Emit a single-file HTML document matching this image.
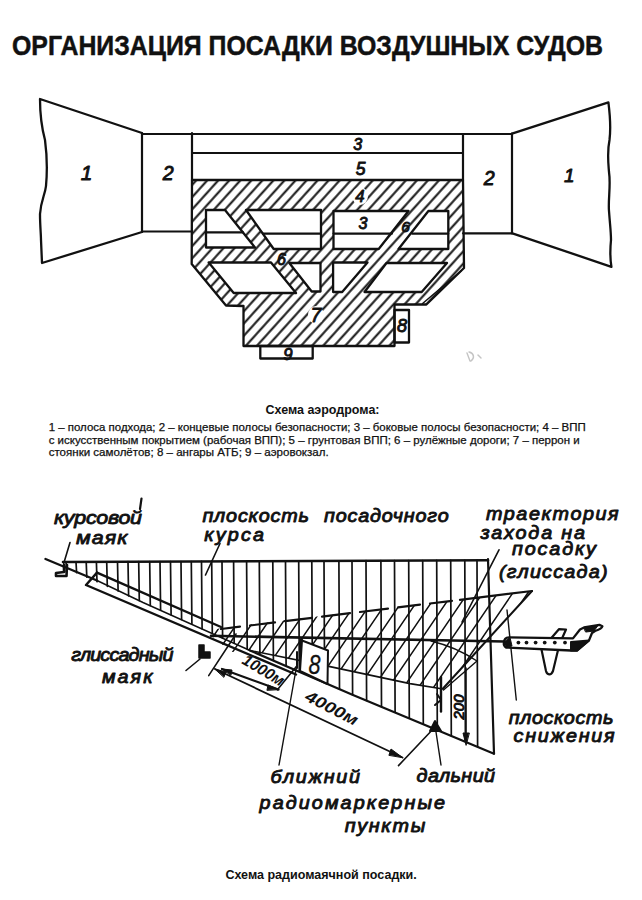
<!DOCTYPE html>
<html><head><meta charset="utf-8"><style>
html,body{margin:0;padding:0;background:#fff;}
svg{display:block;}
text{font-family:"Liberation Sans",sans-serif;fill:#111;}
</style></head><body>
<svg width="642" height="900" viewBox="0 0 642 900" stroke="#111" stroke-linecap="round" stroke-linejoin="round">
<defs><pattern id="hatch" patternUnits="userSpaceOnUse" width="8.2" height="20" patternTransform="rotate(42)"><rect x="3.1" y="-1" width="2" height="22" fill="#111" stroke="none"/></pattern></defs>
<rect width="642" height="900" fill="#fff" stroke="none"/>
<g stroke="none">
<text x="12" y="55" font-size="28.5" font-weight="bold" font-style="normal" text-anchor="start" textLength="591" lengthAdjust="spacingAndGlyphs" stroke="#111" stroke-width="0.5">ОРГАНИЗАЦИЯ ПОСАДКИ ВОЗДУШНЫХ СУДОВ</text>
<text x="265.5" y="413.7" font-size="12" font-weight="bold" font-style="normal" text-anchor="start" textLength="114" lengthAdjust="spacingAndGlyphs" >Схема аэродрома:</text>
<text x="48.7" y="431" font-size="11" font-weight="normal" font-style="normal" text-anchor="start" textLength="537" lengthAdjust="spacingAndGlyphs" stroke="#111" stroke-width="0.25">1 – полоса подхода; 2 – концевые полосы безопасности; 3 – боковые полосы безопасности; 4 – ВПП</text>
<text x="48.7" y="443.5" font-size="11" font-weight="normal" font-style="normal" text-anchor="start" textLength="531" lengthAdjust="spacingAndGlyphs" stroke="#111" stroke-width="0.25">с искусственным покрытием (рабочая ВПП); 5 – грунтовая ВПП; 6 – рулёжные дороги; 7 – перрон и</text>
<text x="48.7" y="456" font-size="11" font-weight="normal" font-style="normal" text-anchor="start" textLength="280" lengthAdjust="spacingAndGlyphs" stroke="#111" stroke-width="0.25">стоянки самолётов; 8 – ангары АТБ; 9 – аэровокзал.</text>
<text x="225.4" y="879.3" font-size="12" font-weight="bold" font-style="normal" text-anchor="start" textLength="191.4" lengthAdjust="spacingAndGlyphs" >Схема радиомаячной посадки.</text>
<path d="M192.0,180.0 463.0,180.0 464.0,268.0 426.4,304.5 394.5,304.5 394.5,346.0 243.5,346.0 243.5,306.0 226.0,305.5 191.7,264.0Z M206.0,210.0 225.0,210.0 255.0,247.5 206.0,247.5Z M246.0,210.0 321.0,210.0 321.0,249.0 273.7,249.0Z M208.7,262.5 271.0,262.5 296.0,293.0 233.7,293.0Z M289.3,263.0 320.5,263.0 320.5,291.5 311.7,291.5Z M333.5,211.0 408.5,211.0 378.7,249.0 333.5,249.0Z M428.4,211.0 448.3,211.0 448.3,249.0 398.5,249.0Z M333.1,262.5 367.5,262.5 342.2,292.0 333.1,292.0Z M386.5,263.0 447.0,263.0 421.7,292.0 364.5,292.0Z" fill="url(#hatch)" fill-rule="evenodd" stroke="none"/>
<g fill="none" stroke="#111" stroke-width="2.3">
<polygon points="192.0,180.0 463.0,180.0 464.0,268.0 426.4,304.5 394.5,304.5 394.5,346.0 243.5,346.0 243.5,306.0 226.0,305.5 191.7,264.0"/>
<polygon points="206.0,210.0 225.0,210.0 255.0,247.5 206.0,247.5"/>
<polygon points="246.0,210.0 321.0,210.0 321.0,249.0 273.7,249.0"/>
<polygon points="208.7,262.5 271.0,262.5 296.0,293.0 233.7,293.0"/>
<polygon points="289.3,263.0 320.5,263.0 320.5,291.5 311.7,291.5"/>
<polygon points="333.5,211.0 408.5,211.0 378.7,249.0 333.5,249.0"/>
<polygon points="428.4,211.0 448.3,211.0 448.3,249.0 398.5,249.0"/>
<polygon points="333.1,262.5 367.5,262.5 342.2,292.0 333.1,292.0"/>
<polygon points="386.5,263.0 447.0,263.0 421.7,292.0 364.5,292.0"/>
<line x1="206.0" y1="232.4" x2="243.0" y2="232.4" stroke="#111" stroke-width="2.2"/>
<line x1="263.0" y1="233.7" x2="321.0" y2="233.7" stroke="#111" stroke-width="2.2"/>
<line x1="333.5" y1="233.6" x2="392.0" y2="233.6" stroke="#111" stroke-width="2.2"/>
<line x1="412.0" y1="233.6" x2="448.3" y2="233.6" stroke="#111" stroke-width="2.2"/>
<line x1="142.0" y1="134.0" x2="512.0" y2="134.0" stroke="#111" stroke-width="2.2"/>
<line x1="192.0" y1="153.0" x2="463.0" y2="153.0" stroke="#111" stroke-width="2.2"/>
<line x1="192.0" y1="133.0" x2="192.0" y2="180.0" stroke="#111" stroke-width="2.2"/>
<line x1="463.0" y1="134.0" x2="463.0" y2="180.0" stroke="#111" stroke-width="2.2"/>
<line x1="142.0" y1="133.0" x2="142.0" y2="232.0" stroke="#111" stroke-width="2.2"/>
<line x1="142.0" y1="231.5" x2="192.0" y2="231.5" stroke="#111" stroke-width="2.2"/>
<line x1="463.0" y1="233.3" x2="512.0" y2="233.3" stroke="#111" stroke-width="2.2"/>
<line x1="512.0" y1="133.6" x2="512.0" y2="233.3" stroke="#111" stroke-width="2.2"/>
<path d="M142,133 L40,99 C40,110 41,125 45,140 C47,155 47,175 46,186 C45,195 41,200 40,214 C40,225 41,235 41,240 L42,263 L142,232"/>
<path d="M512,133.6 L608.4,102.4 C610,115 611,128 609.5,140 C607,152 608,160 609,172 C611,185 608,200 609,211 C610,225 611,232 611,240 C610,250 610,258 611.4,266.8 L512.4,233.3"/>
<line x1="461.0" y1="271.0" x2="422.6" y2="303.5" stroke="#111" stroke-width="1.6"/>
<rect x="394.5" y="310" width="14.5" height="32.5"/>
<rect x="260.3" y="346" width="52.4" height="12.5"/>
</g>
<g fill="none" stroke="#c4c4c4" stroke-width="1.4"><path d="M467,353 L470,361 M469,352 C474,353 475,358 471,361"/><path d="M478,355 L481,358"/></g>
<g fill="#fff" stroke="none"><ellipse cx="360" cy="196" rx="8" ry="9"/><ellipse cx="316" cy="315" rx="8" ry="9"/></g>
<text x="86.5" y="180.0" font-size="20.9" font-style="italic" stroke="#111" stroke-width="0.9" text-anchor="middle">1</text>
<text x="168.2" y="180.0" font-size="19.6" font-style="italic" stroke="#111" stroke-width="0.9" text-anchor="middle">2</text>
<text x="357.8" y="150.0" font-size="16.1" font-style="italic" stroke="#111" stroke-width="0.9" text-anchor="middle">3</text>
<text x="360.5" y="175.0" font-size="17.5" font-style="italic" stroke="#111" stroke-width="0.9" text-anchor="middle">5</text>
<text x="360.0" y="202.0" font-size="16.8" font-style="italic" stroke="#111" stroke-width="0.9" text-anchor="middle">4</text>
<text x="363.0" y="228.5" font-size="16.1" font-style="italic" stroke="#111" stroke-width="0.9" text-anchor="middle">3</text>
<text x="405.5" y="232.0" font-size="15.4" font-style="italic" stroke="#111" stroke-width="0.9" text-anchor="middle">6</text>
<text x="489.2" y="185.0" font-size="19.6" font-style="italic" stroke="#111" stroke-width="0.9" text-anchor="middle">2</text>
<text x="569.2" y="182.0" font-size="18.9" font-style="italic" stroke="#111" stroke-width="0.9" text-anchor="middle">1</text>
<text x="281.5" y="265.0" font-size="16.1" font-style="italic" stroke="#111" stroke-width="0.9" text-anchor="middle">6</text>
<text x="316.0" y="322.0" font-size="19.6" font-style="italic" stroke="#111" stroke-width="0.9" text-anchor="middle">7</text>
<text x="402.0" y="332.0" font-size="18.2" font-style="italic" stroke="#111" stroke-width="0.9" text-anchor="middle">8</text>
<text x="288.0" y="360.0" font-size="16.8" font-style="italic" stroke="#111" stroke-width="0.9" text-anchor="middle">9</text>
<g fill="none" stroke="#111">
<line x1="66" y1="562.0" x2="66.6" y2="568.1" stroke-width="1.7"/>
<line x1="76" y1="562.0" x2="76.6" y2="572.6" stroke-width="1.7"/>
<line x1="86.2" y1="561.9" x2="86.8" y2="577.2" stroke-width="1.7"/>
<line x1="96.4" y1="561.9" x2="97.0" y2="581.7" stroke-width="1.7"/>
<line x1="106.7" y1="561.8" x2="107.3" y2="586.3" stroke-width="1.7"/>
<line x1="117.5" y1="561.8" x2="118.1" y2="591.1" stroke-width="1.7"/>
<line x1="128" y1="561.7" x2="128.6" y2="595.8" stroke-width="1.7"/>
<line x1="138.7" y1="561.7" x2="139.3" y2="600.6" stroke-width="1.7"/>
<line x1="149.7" y1="561.6" x2="150.3" y2="605.5" stroke-width="1.7"/>
<line x1="160" y1="561.6" x2="160.6" y2="610.1" stroke-width="1.7"/>
<line x1="170.5" y1="561.6" x2="171.1" y2="614.8" stroke-width="1.7"/>
<line x1="181" y1="561.5" x2="181.6" y2="619.5" stroke-width="1.7"/>
<line x1="191.3" y1="561.5" x2="191.9" y2="624.2" stroke-width="1.7"/>
<line x1="201.5" y1="561.4" x2="202.1" y2="628.7" stroke-width="1.7"/>
<line x1="211.7" y1="561.4" x2="212.3" y2="633.3" stroke-width="1.7"/>
<line x1="222" y1="561.3" x2="222.6" y2="637.9" stroke-width="1.7"/>
<line x1="233.6" y1="561.3" x2="234.2" y2="643.1" stroke-width="1.7"/>
<line x1="246.6" y1="561.2" x2="247.2" y2="649.0" stroke-width="1.7"/>
<line x1="259.3" y1="561.2" x2="259.9" y2="654.5" stroke-width="1.7"/>
<line x1="272.8" y1="561.1" x2="273.4" y2="660.3" stroke-width="1.7"/>
<line x1="285.5" y1="561.1" x2="286.1" y2="665.8" stroke-width="1.7"/>
<line x1="298.7" y1="561.0" x2="299.3" y2="671.5" stroke-width="1.7"/>
<line x1="311.8" y1="560.9" x2="312.4" y2="677.2" stroke-width="1.7"/>
<line x1="324" y1="560.9" x2="324.6" y2="682.4" stroke-width="1.7"/>
<line x1="338.9" y1="560.8" x2="339.5" y2="688.9" stroke-width="1.7"/>
<line x1="352" y1="560.8" x2="352.6" y2="694.5" stroke-width="1.7"/>
<line x1="366" y1="560.7" x2="366.6" y2="700.4" stroke-width="1.7"/>
<line x1="380.9" y1="560.7" x2="381.5" y2="706.6" stroke-width="1.7"/>
<line x1="394.5" y1="560.6" x2="395.1" y2="712.2" stroke-width="1.7"/>
<line x1="408.7" y1="560.5" x2="409.3" y2="718.2" stroke-width="1.7"/>
<line x1="422.7" y1="560.5" x2="423.3" y2="724.0" stroke-width="1.7"/>
<line x1="436.7" y1="560.4" x2="437.3" y2="729.8" stroke-width="1.7"/>
<line x1="450.7" y1="560.4" x2="451.3" y2="735.7" stroke-width="1.7"/>
<line x1="464.8" y1="560.3" x2="465.4" y2="741.5" stroke-width="1.7"/>
<line x1="477" y1="560.2" x2="477.6" y2="746.6" stroke-width="1.7"/>
<line x1="63.0" y1="562.0" x2="488.0" y2="560.2" stroke="#111" stroke-width="2.6"/>
<line x1="488.0" y1="559.2" x2="494.0" y2="753.7" stroke="#111" stroke-width="2.2"/>
<polyline points="45.5,559.0 97.0,580.5" fill="none" stroke="#111" stroke-width="2.4"/>
<polyline points="97.0,580.5 143.0,602.5 250.0,650.5" fill="none" stroke="#111" stroke-width="1.4"/>
<polyline points="250.0,650.5 352.4,694.7 494.0,753.7" fill="none" stroke="#111" stroke-width="2.2"/>
<polyline points="97.0,572.6 221.0,627.0" fill="none" stroke="#111" stroke-width="2.4"/>
<polyline points="97.0,572.6 86.0,585.0 296.0,674.5" fill="none" stroke="#111" stroke-width="2.4"/>
<clipPath id="gpc"><polygon points="206,632 221,628 532,591 443,688.5 410,683.6 330,666.6 250,650.5 232,652"/></clipPath>
<g clip-path="url(#gpc)">
<line x1="95.0" y1="700" x2="176.6" y2="580" stroke-width="1.5"/>
<line x1="110.0" y1="700" x2="191.6" y2="580" stroke-width="1.5"/>
<line x1="125.0" y1="700" x2="206.6" y2="580" stroke-width="1.5"/>
<line x1="140.0" y1="700" x2="221.6" y2="580" stroke-width="1.5"/>
<line x1="155.0" y1="700" x2="236.6" y2="580" stroke-width="1.5"/>
<line x1="170.0" y1="700" x2="251.6" y2="580" stroke-width="1.5"/>
<line x1="185.0" y1="700" x2="266.6" y2="580" stroke-width="1.5"/>
<line x1="200.0" y1="700" x2="281.6" y2="580" stroke-width="1.5"/>
<line x1="215.0" y1="700" x2="296.6" y2="580" stroke-width="1.5"/>
<line x1="230.0" y1="700" x2="311.6" y2="580" stroke-width="1.5"/>
<line x1="245.0" y1="700" x2="326.6" y2="580" stroke-width="1.5"/>
<line x1="260.0" y1="700" x2="341.6" y2="580" stroke-width="1.5"/>
<line x1="275.0" y1="700" x2="356.6" y2="580" stroke-width="1.5"/>
<line x1="290.0" y1="700" x2="371.6" y2="580" stroke-width="1.5"/>
<line x1="305.0" y1="700" x2="386.6" y2="580" stroke-width="1.5"/>
<line x1="320.0" y1="700" x2="401.6" y2="580" stroke-width="1.5"/>
<line x1="335.0" y1="700" x2="416.6" y2="580" stroke-width="1.5"/>
<line x1="350.0" y1="700" x2="431.6" y2="580" stroke-width="1.5"/>
<line x1="365.0" y1="700" x2="446.6" y2="580" stroke-width="1.5"/>
<line x1="380.0" y1="700" x2="461.6" y2="580" stroke-width="1.5"/>
<line x1="395.0" y1="700" x2="476.6" y2="580" stroke-width="1.5"/>
<line x1="410.0" y1="700" x2="491.6" y2="580" stroke-width="1.5"/>
<line x1="425.0" y1="700" x2="506.6" y2="580" stroke-width="1.5"/>
<line x1="440.0" y1="700" x2="521.6" y2="580" stroke-width="1.5"/>
<line x1="455.0" y1="700" x2="536.6" y2="580" stroke-width="1.5"/>
<line x1="470.0" y1="700" x2="551.6" y2="580" stroke-width="1.5"/>
<line x1="485.0" y1="700" x2="566.6" y2="580" stroke-width="1.5"/>
<line x1="500.0" y1="700" x2="581.6" y2="580" stroke-width="1.5"/>
<line x1="515.0" y1="700" x2="596.6" y2="580" stroke-width="1.5"/>
<line x1="530.0" y1="700" x2="611.6" y2="580" stroke-width="1.5"/>
<line x1="545.0" y1="700" x2="626.6" y2="580" stroke-width="1.5"/>
<line x1="560.0" y1="700" x2="641.6" y2="580" stroke-width="1.5"/>
<line x1="575.0" y1="700" x2="656.6" y2="580" stroke-width="1.5"/>
<line x1="590.0" y1="700" x2="671.6" y2="580" stroke-width="1.5"/>
<line x1="605.0" y1="700" x2="686.6" y2="580" stroke-width="1.5"/>
<line x1="620.0" y1="700" x2="701.6" y2="580" stroke-width="1.5"/>
<line x1="635.0" y1="700" x2="716.6" y2="580" stroke-width="1.5"/>
<line x1="650.0" y1="700" x2="731.6" y2="580" stroke-width="1.5"/>
</g>
<line x1="221" y1="629.0" x2="240" y2="626.7" stroke-width="2.2"/>
<line x1="250" y1="625.5" x2="275" y2="622.4" stroke-width="2.2"/>
<line x1="285" y1="621.2" x2="312" y2="617.9" stroke-width="2.2"/>
<line x1="322" y1="616.7" x2="350" y2="613.2" stroke-width="2.2"/>
<line x1="360" y1="612.0" x2="388" y2="608.6" stroke-width="2.2"/>
<line x1="398" y1="607.4" x2="420" y2="604.7" stroke-width="2.2"/>
<line x1="430" y1="603.5" x2="452" y2="600.8" stroke-width="2.2"/>
<line x1="460" y1="599.8" x2="532" y2="591.0" stroke-width="2.2"/>
<line x1="532.0" y1="591.0" x2="443.0" y2="688.5" stroke="#111" stroke-width="2.0"/>
<line x1="477.0" y1="661.0" x2="443.5" y2="690.0" stroke="#111" stroke-width="1.4"/>
<path d="M431,641 Q456,647 477,661" stroke-width="1.4"/>
<polyline points="250.0,650.5 330.0,666.6 410.0,683.6 443.0,689.0" fill="none" stroke="#111" stroke-width="1.6"/>
<line x1="211.0" y1="635.8" x2="504.0" y2="641.5" stroke="#111" stroke-width="2.6"/>
<line x1="70.0" y1="542.5" x2="63.7" y2="563.5" stroke="#111" stroke-width="1.6"/>
<line x1="220.0" y1="543.5" x2="205.5" y2="575.0" stroke="#111" stroke-width="1.6"/>
<line x1="499.0" y1="549.8" x2="462.0" y2="622.0" stroke="#111" stroke-width="1.6"/>
<line x1="507.0" y1="610.0" x2="516.3" y2="700.0" stroke="#111" stroke-width="1.4"/>
<line x1="186.0" y1="670.5" x2="200.0" y2="659.0" stroke="#111" stroke-width="1.6"/>
<polyline points="64.0,565.0 64.0,572.0 56.0,573.0 56.0,576.0 66.5,576.0 67.0,565.0" fill="none" stroke="#111" stroke-width="2.6"/>
<path d="M199,645 L199,658 L210,658 L210,652 L204,652 L204,645 Z" fill="#111" stroke-width="1.5"/>
<line x1="208.7" y1="675.6" x2="236.0" y2="634.0" stroke="#111" stroke-width="1.6"/>
<line x1="277.4" y1="689.8" x2="297.0" y2="665.8" stroke="#111" stroke-width="1.6"/>
<line x1="222.0" y1="669.0" x2="278.5" y2="689.5" stroke="#111" stroke-width="2.2"/>
<polygon points="222,669 232,670 231,675" fill="#111" stroke-width="1"/>
<polygon points="278.5,689.5 268,685 267,690" fill="#111" stroke-width="1"/>
<line x1="215.0" y1="669.0" x2="402.5" y2="757.5" stroke="#111" stroke-width="1.8"/>
<polygon points="402.5,757.5 391,749 389,755" fill="#111" stroke-width="1"/>
<polygon points="215,669 226,672 224,677" fill="#111" stroke-width="1"/>
<line x1="398.5" y1="765.6" x2="435.0" y2="727.0" stroke="#111" stroke-width="1.6"/>
<line x1="301.4" y1="640.0" x2="301.4" y2="669.0" stroke="#111" stroke-width="3.4"/>
<line x1="297.0" y1="652.0" x2="297.0" y2="668.0" stroke="#111" stroke-width="2"/>
<line x1="297.0" y1="664.0" x2="279.0" y2="765.0" stroke="#111" stroke-width="1.4"/>
<polygon points="302,640.5 328,650.5 327.5,684 300,671" fill="#fff" stroke-width="2"/>
<polygon points="435,721 430,731 441,731" fill="#111" stroke-width="2"/>
<line x1="441.0" y1="677.0" x2="441.0" y2="711.6" stroke="#111" stroke-width="2.4"/>
<polyline points="435.0,705.0 441.0,700.0 437.0,694.0" fill="none" stroke="#111" stroke-width="2"/>
<line x1="435.7" y1="730.0" x2="441.0" y2="765.0" stroke="#111" stroke-width="1.4"/>
<line x1="466.0" y1="668.0" x2="466.0" y2="742.8" stroke="#111" stroke-width="1.6"/>
<polygon points="466,745 463,733 469,733" fill="#111" stroke-width="1"/>
</g>
<line x1="141.5" y1="498.5" x2="140.0" y2="509.0" stroke="#111" stroke-width="2.2"/>
<g fill="#fff" stroke="#111" stroke-width="2">
<path d="M551.8,637.5 L558.9,629.2 L566,629.5 L562,638.5" stroke-width="2.2"/>
<path d="M541.6,650 L546,671 C547,675 551,676 553,671 L557.8,651" stroke-width="2.2"/>
<path d="M504,642.5 C504,639 506,637.5 509,637.3 L573,638.4 L580,629.5 L584,627.5 L599.4,624.8 L602.4,626.2 C602,628 598,630 595,631 L592,633 L589,640.4 L577,650.5 L571,650.5 L506,647.5 C504,646.5 503.5,644 504,642.5 Z" stroke-width="2.3"/>
<path d="M571,642 L589,640.4 L577,650.5 L571,650.5 Z" fill="#111"/>
<path d="M584,628 L598,625.5 L594,631 L586,632 Z" fill="#111" stroke-width="1"/>
<path d="M504,642 L510,637.5 L512,646 L506,647.5 Z" fill="#111" stroke-width="1"/>
<circle cx="518.4" cy="642.6" r="1.9" fill="#111" stroke="none"/>
<circle cx="526.5" cy="642.6" r="1.9" fill="#111" stroke="none"/>
<circle cx="535.6" cy="642.6" r="1.9" fill="#111" stroke="none"/>
<circle cx="544.7" cy="642.6" r="1.9" fill="#111" stroke="none"/>
<circle cx="554.8" cy="642.6" r="1.9" fill="#111" stroke="none"/>
<circle cx="565" cy="642.6" r="1.9" fill="#111" stroke="none"/>
</g>
<text x="0" y="0" transform="translate(54,524) scale(1.13,1)" font-size="19" font-style="italic" stroke="#111" stroke-width="0.85" textLength="77.9" lengthAdjust="spacing" >курсовой</text>
<text x="0" y="0" transform="translate(76,543.5) scale(1.13,1)" font-size="19" font-style="italic" stroke="#111" stroke-width="0.85" textLength="45.6" lengthAdjust="spacing" >маяк</text>
<text x="0" y="0" transform="translate(202.4,521.8) scale(1.13,1)" font-size="17.5" font-style="italic" stroke="#111" stroke-width="0.85" textLength="94.3" lengthAdjust="spacing" >плоскость</text>
<text x="0" y="0" transform="translate(324,521.8) scale(1.13,1)" font-size="17.5" font-style="italic" stroke="#111" stroke-width="0.85" textLength="110.3" lengthAdjust="spacing" >посадочного</text>
<text x="0" y="0" transform="translate(204.3,540.5) scale(1.13,1)" font-size="17.5" font-style="italic" stroke="#111" stroke-width="0.85" textLength="52.8" lengthAdjust="spacing" >курса</text>
<text x="0" y="0" transform="translate(486,520) scale(1.13,1)" font-size="17.5" font-style="italic" stroke="#111" stroke-width="0.85" textLength="117.4" lengthAdjust="spacing" >траектория</text>
<text x="0" y="0" transform="translate(480.4,538.6) scale(1.13,1)" font-size="17.5" font-style="italic" stroke="#111" stroke-width="0.85" textLength="92.6" lengthAdjust="spacing" >захода на</text>
<text x="0" y="0" transform="translate(512,555.4) scale(1.13,1)" font-size="17.5" font-style="italic" stroke="#111" stroke-width="0.85" textLength="74.3" lengthAdjust="spacing" >посадку</text>
<text x="0" y="0" transform="translate(499,578) scale(1.13,1)" font-size="17.5" font-style="italic" stroke="#111" stroke-width="0.85" textLength="96.0" lengthAdjust="spacing" >(глиссада)</text>
<text x="0" y="0" transform="translate(71.2,660.6) scale(1.13,1)" font-size="17.5" font-style="italic" stroke="#111" stroke-width="0.85" textLength="90.5" lengthAdjust="spacing" >глиссадный</text>
<text x="0" y="0" transform="translate(102,683) scale(1.13,1)" font-size="17.5" font-style="italic" stroke="#111" stroke-width="0.85" textLength="44.7" lengthAdjust="spacing" >маяк</text>
<text x="0" y="0" transform="translate(508.7,723.6) scale(1.13,1)" font-size="17.5" font-style="italic" stroke="#111" stroke-width="0.85" textLength="92.6" lengthAdjust="spacing" >плоскость</text>
<text x="0" y="0" transform="translate(513.6,742.3) scale(1.13,1)" font-size="17.5" font-style="italic" stroke="#111" stroke-width="0.85" textLength="89.4" lengthAdjust="spacing" >снижения</text>
<text x="0" y="0" transform="translate(270.5,782.7) scale(1.13,1)" font-size="17.5" font-style="italic" stroke="#111" stroke-width="0.85" textLength="79.2" lengthAdjust="spacing" >ближний</text>
<text x="0" y="0" transform="translate(416.6,782) scale(1.13,1)" font-size="17.5" font-style="italic" stroke="#111" stroke-width="0.85" textLength="69.4" lengthAdjust="spacing" >дальний</text>
<text x="0" y="0" transform="translate(259.6,808.9) scale(1.13,1)" font-size="17.5" font-style="italic" stroke="#111" stroke-width="0.85" textLength="164.1" lengthAdjust="spacing" >радиомаркерные</text>
<text x="0" y="0" transform="translate(344.7,832) scale(1.13,1)" font-size="17.5" font-style="italic" stroke="#111" stroke-width="0.85" textLength="71.3" lengthAdjust="spacing" >пункты</text>
<text x="0" y="0" font-size="16" font-style="italic" font-weight="bold" transform="translate(241,663) rotate(31)" textLength="46" lengthAdjust="spacingAndGlyphs">1000м</text>
<text x="0" y="0" font-size="16" font-style="italic" font-weight="bold" transform="translate(304,700) rotate(27)" textLength="57" lengthAdjust="spacingAndGlyphs">4000м</text>
<text x="0" y="0" font-size="27" font-style="italic" stroke="#111" stroke-width="0.3" text-anchor="middle" transform="translate(314.5,674)" textLength="12" lengthAdjust="spacingAndGlyphs">8</text>
<text x="0" y="0" font-size="14" font-style="italic" stroke="#111" stroke-width="0.9" transform="translate(463.5,719.5) rotate(-90)" textLength="25" lengthAdjust="spacingAndGlyphs">200</text>
</g>
</svg></body></html>
